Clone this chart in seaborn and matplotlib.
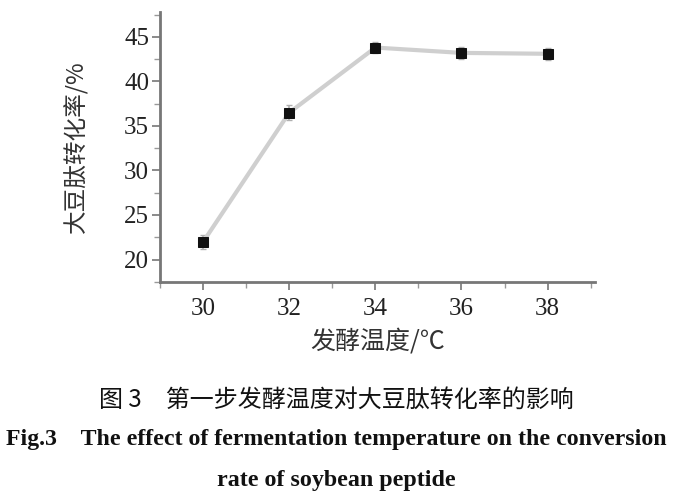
import numpy as np
import pandas as pd
import seaborn as sns
import matplotlib
matplotlib.use('Agg')
import matplotlib.pyplot as plt
from matplotlib.ticker import MultipleLocator

# 发酵温度 vs 大豆肽转化率
temperature = [30, 32, 34, 36, 38]
conversion = [22.0, 36.5, 43.8, 43.2, 43.1]
error = [0.8, 0.8, 0.6, 0.7, 0.7]

df = pd.DataFrame({'temp': temperature, 'rate': conversion, 'err': error})

sns.set_theme(style='ticks')
plt.rcParams['font.family'] = ['Liberation Serif', 'Noto Sans CJK SC', 'DejaVu Sans']
cjk = ['Noto Sans CJK SC', 'DejaVu Sans']

fig = plt.figure(figsize=(6.76, 4.97), dpi=100)
ax = fig.add_axes([0.237, 0.433, 0.643, 0.543])

ax.errorbar(df['temp'], df['rate'], yerr=df['err'], fmt='none',
            ecolor='#b0b0b0', elinewidth=1.2, capsize=2, capthick=1, zorder=2)
sns.lineplot(data=df, x='temp', y='rate', ax=ax, color='#cfcfcf', linewidth=3,
             marker='s', markersize=6.5, markerfacecolor='#111111',
             markeredgecolor='#111111', zorder=3)

ax.set_xlim(29, 39.1)
ax.set_ylim(17.5, 47.8)
ax.xaxis.set_major_locator(MultipleLocator(2))
ax.xaxis.set_minor_locator(MultipleLocator(1))
ax.yaxis.set_major_locator(MultipleLocator(5))
ax.yaxis.set_minor_locator(MultipleLocator(2.5))

for s in ['top', 'right']:
    ax.spines[s].set_visible(False)
for s in ['left', 'bottom']:
    ax.spines[s].set_color('#777777')
    ax.spines[s].set_linewidth(2)

ax.tick_params(axis='both', which='major', labelsize=18, colors='#777777',
               labelcolor='#222222', length=6, width=1.2, pad=2)
ax.tick_params(axis='x', which='major', pad=6)
ax.tick_params(axis='both', which='minor', colors='#999999', length=4, width=1)

ax.set_xlabel('发酵温度/℃', fontsize=18, family=cjk, color='#333333', labelpad=6)
ax.set_ylabel('大豆肽转化率/%', fontsize=17, family=cjk, color='#333333', labelpad=26)

fig.text(0.497, 0.195, '图 3　第一步发酵温度对大豆肽转化率的影响', ha='center', va='center',
         fontsize=17.3, family=cjk, color='#111111')
fig.text(0.497, 0.115, 'Fig.3    The effect of fermentation temperature on the conversion',
         ha='center', va='center', fontsize=17.2, fontweight='bold', color='#111111')
fig.text(0.497, 0.033, 'rate of soybean peptide', ha='center', va='center',
         fontsize=17.3, fontweight='bold', color='#111111')

fig.savefig('out.png', dpi=100)
